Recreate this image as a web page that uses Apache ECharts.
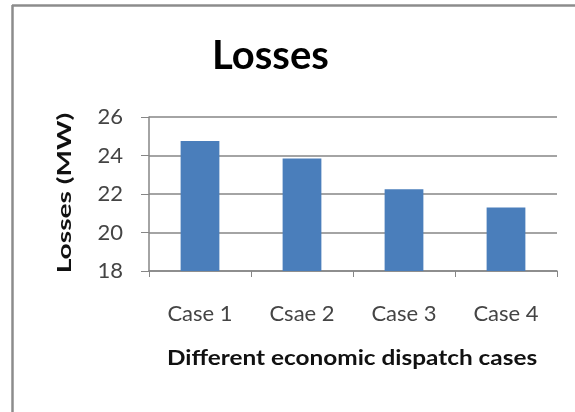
<!DOCTYPE html>
<html>
<head>
<meta charset="utf-8">
<script src="https://cdn.jsdelivr.net/npm/echarts@6/dist/echarts.min.js"></script>
<style>
  html, body { margin: 0; padding: 0; background: #ffffff; }
  #chart { width: 575px; height: 412px; }
</style>
</head>
<body>
<div id="chart"></div>
<script>
// Power losses per economic dispatch case
const categories = ['Case 1', 'Csae 2', 'Case 3', 'Case 4'];
const losses = [24.75, 23.85, 22.25, 21.3];
const yTicks = [18, 20, 22, 24, 26];
const titleText = 'Losses';
const xAxisTitle = 'Different economic dispatch cases';
const yAxisTitle = 'Losses (MW)';

const FONT = 'Lato, "Open Sans", sans-serif';
const AXIS_GREY = '#868686';

const chart = echarts.init(document.getElementById('chart'), null, { renderer: 'canvas' });

chart.setOption({
  backgroundColor: '#ffffff',
  animation: false,
  title: {
    text: titleText,
    left: 207,
    top: 31,
    textStyle: { fontFamily: FONT, fontSize: 40, fontWeight: 'bold', color: '#000000' }
  },
  graphic: [
    // chart frame (left and top edges)
    { type: 'line', shape: { x1: 12.5, y1: 5, x2: 12.5, y2: 412 }, style: { stroke: '#8c8c8c', lineWidth: 2.5 } },
    { type: 'line', shape: { x1: 12, y1: 5.5, x2: 575, y2: 5.5 }, style: { stroke: '#8c8c8c', lineWidth: 2.5 } },
    // axis titles, drawn as stretched text
    {
      type: 'text', x: 352, y: 358, scaleX: 1.16,
      style: {
        text: xAxisTitle, font: 'bold 21px ' + FONT, fill: '#111111',
        textAlign: 'center', textVerticalAlign: 'middle'
      }
    },
    {
      type: 'text', x: 65, y: 193, rotation: Math.PI / 2, scaleX: 1.48,
      style: {
        text: yAxisTitle, font: 'bold 19px ' + FONT, fill: '#111111',
        textAlign: 'center', textVerticalAlign: 'middle'
      }
    }
  ],
  grid: { left: 149, right: 18, top: 117, bottom: 141 },
  xAxis: {
    type: 'category',
    data: categories,
    axisLine: { lineStyle: { color: AXIS_GREY, width: 1.5 } },
    axisTick: { show: true, alignWithLabel: false, length: 6, lineStyle: { color: AXIS_GREY } },
    axisLabel: { fontFamily: FONT, fontSize: 22, color: '#444444', margin: 32 }
  },
  yAxis: {
    type: 'value',
    min: yTicks[0],
    max: yTicks[yTicks.length - 1],
    interval: 2,
    axisLine: { show: true, lineStyle: { color: AXIS_GREY, width: 1.5 } },
    axisTick: { show: true, length: 8, lineStyle: { color: AXIS_GREY } },
    axisLabel: { fontFamily: FONT, fontSize: 22, color: '#444444', margin: 26 },
    splitLine: { show: true, lineStyle: { color: AXIS_GREY, width: 1.5 } }
  },
  series: [{
    type: 'bar',
    data: losses,
    barWidth: '38%',
    itemStyle: { color: '#4a7ebb' }
  }]
});
</script>
</body>
</html>
